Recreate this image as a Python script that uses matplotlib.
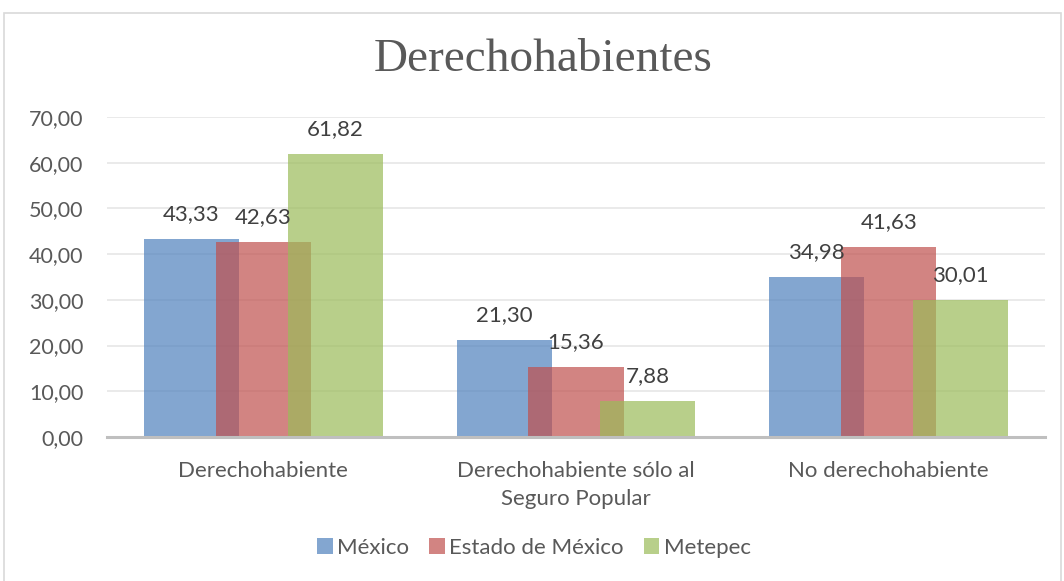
import numpy as np
import matplotlib.pyplot as plt
from matplotlib.patches import Rectangle

# datos
categorias = ["Derechohabiente", "Derechohabiente sólo al\nSeguro Popular", "No derechohabiente"]
series = ["México", "Estado de México", "Metepec"]
mexico = [43.33, 21.30, 34.98]
edomex = [42.63, 15.36, 41.63]
metepec = [61.82, 7.88, 30.01]
yticks = [0, 10, 20, 30, 40, 50, 60, 70]

colores = ["#4F81BD", "#C0504D", "#9BBB59"]
gris = "#595959"
fuente = "Lato"

fig = plt.figure(figsize=(10.64, 5.81), dpi=100)
ax = fig.add_axes([107/1064, 1-437/581, (1045-107)/1064, 320/581])

# marco del grafico
fig.patches.append(Rectangle((4/1064, -0.05), 1057/1064, 1.05-13/581, transform=fig.transFigure,
                             fill=False, edgecolor="#D9D9D9", linewidth=1.2))

x = np.arange(len(categorias))
ancho = 0.304
desp = 0.23
for i, (vals, nombre) in enumerate(zip([mexico, edomex, metepec], series)):
    pos = x + (i-1)*desp
    barras = ax.bar(pos, vals, ancho, color=colores[i], alpha=0.7, label=nombre, zorder=3, linewidth=0)
    for p, v in zip(pos, vals):
        ax.annotate(f"{v:.2f}".replace(".", ","), (p, v), xytext=(0, 18), textcoords="offset points",
                    ha="center", va="center", fontsize=16, color="#404040", family=fuente, zorder=5)

ax.set_xlim(-0.5, 2.5)
ax.set_ylim(0, 70)
ax.set_yticks(yticks)
ax.set_yticklabels([f"{t:.2f}".replace(".", ",") for t in yticks], family=fuente, fontsize=15.5, color=gris)
ax.set_xticks(x)
ax.set_xticklabels(categorias, family=fuente, fontsize=16, color=gris, linespacing=1.55)
ax.tick_params(axis="y", length=0, pad=17)
ax.tick_params(axis="x", length=0, pad=17)
ax.grid(axis="y", color="#E6E6E6", linewidth=1.2, zorder=0)
for s in ["top", "right", "left"]:
    ax.spines[s].set_visible(False)
ax.spines["bottom"].set_color("#BFBFBF")
ax.spines["bottom"].set_linewidth(2.2)
ax.spines["bottom"].set_zorder(4)

fig.text(543/1064, 1-60/581, "Derechohabientes", ha="center", va="center",
         family="Liberation Serif", fontsize=34, color=gris)

leg = fig.legend(loc="center", bbox_to_anchor=(534/1064, 1-548/581), ncol=3, frameon=False,
                 prop={"family": fuente, "size": 16}, handlelength=0.7, handleheight=0.7,
                 handletextpad=0.2, columnspacing=0.9)
for t in leg.get_texts():
    t.set_color(gris)

fig.savefig("out.png", dpi=100)
